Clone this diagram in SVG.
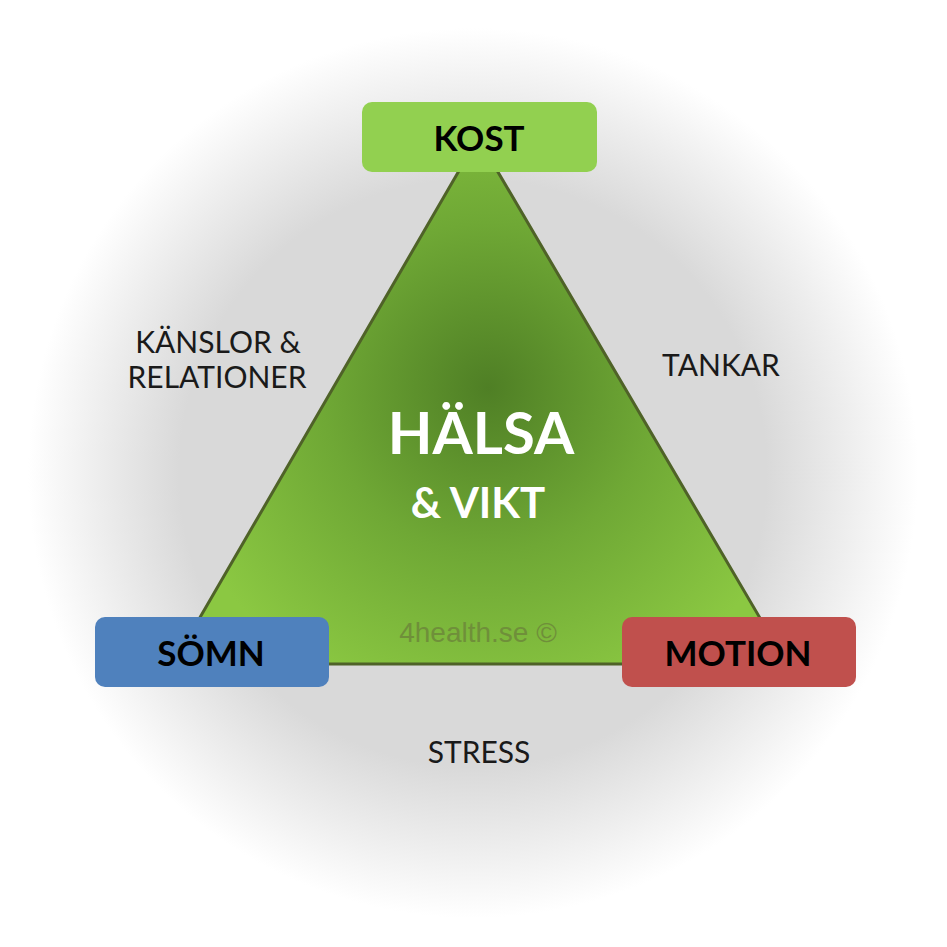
<svg xmlns="http://www.w3.org/2000/svg" width="947" height="947" viewBox="0 0 947 947">
<defs>
<radialGradient id="bg" cx="473" cy="473" r="445" gradientUnits="userSpaceOnUse">
<stop offset="0" stop-color="#d9d9d9"/>
<stop offset="0.66" stop-color="#d9d9d9"/>
<stop offset="0.85" stop-color="#eeeeee"/>
<stop offset="1" stop-color="#ffffff"/>
</radialGradient>
<radialGradient id="tri" cx="488" cy="388" r="330" gradientUnits="userSpaceOnUse">
<stop offset="0" stop-color="#4f7f25"/>
<stop offset="0.5" stop-color="#6fa835"/>
<stop offset="1" stop-color="#8bc842"/>
</radialGradient>
<style>
.box-label{font-family:Lato,"Open Sans",sans-serif;font-weight:bold;font-size:35px;fill:#000;text-anchor:middle}
.side{font-family:Lato,"Open Sans",sans-serif;font-size:30px;fill:#1a1a1a;text-anchor:middle}
.title{font-family:Lato,"Open Sans",sans-serif;font-weight:bold;fill:#fff;text-anchor:middle}
</style>
</defs>
<rect width="947" height="947" fill="#fff"/>
<rect width="947" height="947" fill="url(#bg)"/>
<g id="triangle">
<polygon points="478,138 173,664 787,664" fill="url(#tri)" stroke="#4f6228" stroke-width="3" stroke-linejoin="miter"/>
<text class="title" x="481" y="454" font-size="58">HÄLSA</text>
<text class="title" x="478" y="518" font-size="42">&amp; VIKT</text>
<text x="478" y="642" font-family="Liberation Sans,Arial,sans-serif" font-size="28" fill="#6f8f3a" text-anchor="middle">4health.se ©</text>
</g>
<g id="kost">
<rect x="362" y="102" width="235" height="70" rx="10" fill="#92d050"/>
<text class="box-label" x="479" y="151">KOST</text>
</g>
<g id="somn">
<rect x="95" y="617" width="234" height="70" rx="10" fill="#4f81bd"/>
<text class="box-label" x="211" y="666">SÖMN</text>
</g>
<g id="motion">
<rect x="622" y="617" width="234" height="70" rx="10" fill="#c0504d"/>
<text class="box-label" x="738" y="666">MOTION</text>
</g>
<g id="labels">
<text class="side" x="218" y="353">KÄNSLOR &amp;</text>
<text class="side" x="217" y="388">RELATIONER</text>
<text class="side" x="721" y="376">TANKAR</text>
<text class="side" x="479" y="763">STRESS</text>
</g>
<g id="connectors"></g>
</svg>
